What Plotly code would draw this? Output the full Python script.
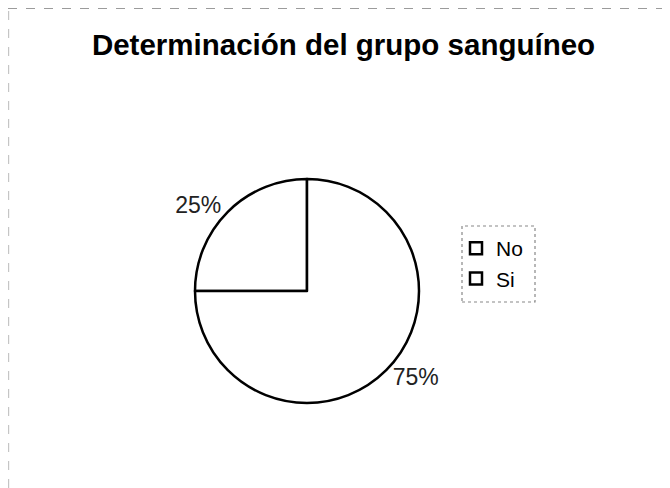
import plotly.graph_objects as go

labels = ["No", "Si"]
values = [25, 75]
title_text = "Determinación del grupo sanguíneo"

W, H = 662, 480  # page body has an 8px margin; figure fills the rest


def px(x):
    return (x - 8) / W


def py(y):
    return 1 - (y - 8) / H


fig = go.Figure()
fig.add_trace(go.Pie(
    labels=labels,
    values=values,
    sort=False,
    direction="clockwise",
    rotation=-90,
    marker=dict(colors=["white", "white"], line=dict(color="black", width=2.5)),
    textinfo="percent",
    textposition="outside",
    texttemplate="%{percent:.0%}",
    textfont=dict(family="Liberation Sans, Arial", size=23, color="#222"),
    domain=dict(x=[px(195), px(419)], y=[py(403), py(179)]),
    showlegend=True,
    hoverinfo="label+percent",
))

fig.update_layout(
    width=W, height=H,
    margin=dict(l=0, r=0, t=0, b=0),
    paper_bgcolor="white",
    plot_bgcolor="white",
    title=dict(text="<b>" + title_text + "</b>", x=px(343.5), xanchor="center",
               y=py(45), yanchor="middle",
               font=dict(family="Liberation Sans, Arial", size=29.5, color="black")),
    legend=dict(x=px(456), y=py(228), xanchor="left", yanchor="top",
                font=dict(family="Liberation Sans, Arial", size=21, color="black"),
                bgcolor="rgba(0,0,0,0)", borderwidth=0, itemwidth=30),
    shapes=[
        dict(type="rect", xref="paper", yref="paper",
             x0=px(462), x1=px(535), y0=py(302), y1=py(226),
             line=dict(color="#888", width=1.2, dash="dot")),
        dict(type="line", xref="paper", yref="paper",
             x0=0, x1=1, y0=0.999, y1=0.999,
             line=dict(color="#999", width=1, dash="dash")),
        dict(type="line", xref="paper", yref="paper",
             x0=0.001, x1=0.001, y0=0, y1=1,
             line=dict(color="#bbb", width=1, dash="dash")),
    ],
)

fig.write_html("out.html")
